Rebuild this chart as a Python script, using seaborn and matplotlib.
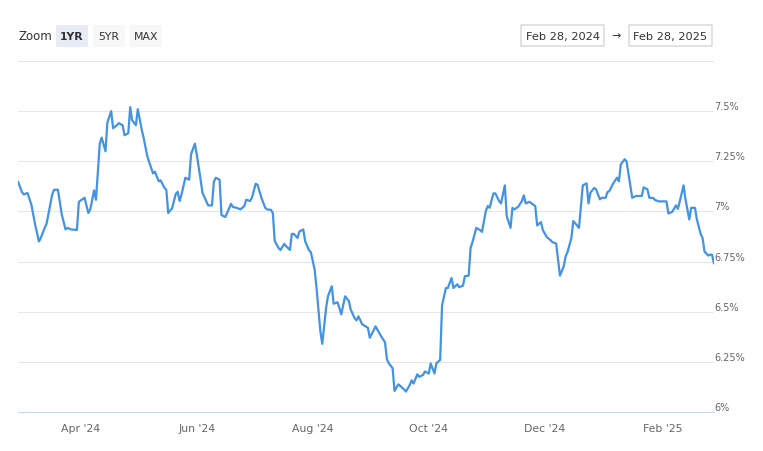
import matplotlib
matplotlib.use("Agg")
import matplotlib.pyplot as plt
import matplotlib.dates as mdates
from matplotlib.patches import FancyBboxPatch
from matplotlib.transforms import IdentityTransform, blended_transform_factory
import pandas as pd
import seaborn as sns

# Rate series (Feb 28, 2024 -> Feb 28, 2025)
dates = [
    "2024-02-28", "2024-03-01", "2024-03-02", "2024-03-04", "2024-03-06", "2024-03-08",
    "2024-03-10", "2024-03-11", "2024-03-13", "2024-03-14", "2024-03-17", "2024-03-18",
    "2024-03-20", "2024-03-22", "2024-03-24", "2024-03-25", "2024-03-27", "2024-03-30",
    "2024-03-31", "2024-04-03", "2024-04-05", "2024-04-06", "2024-04-08", "2024-04-09",
    "2024-04-11", "2024-04-12", "2024-04-14", "2024-04-15", "2024-04-17", "2024-04-18",
    "2024-04-20", "2024-04-21", "2024-04-23", "2024-04-24", "2024-04-26", "2024-04-27",
    "2024-04-28", "2024-04-30", "2024-05-01", "2024-05-03", "2024-05-04", "2024-05-06",
    "2024-05-07", "2024-05-09", "2024-05-10", "2024-05-12", "2024-05-13", "2024-05-15",
    "2024-05-16", "2024-05-17", "2024-05-19", "2024-05-21", "2024-05-22", "2024-05-23",
    "2024-05-24", "2024-05-26", "2024-05-28", "2024-05-29", "2024-05-31", "2024-06-01",
    "2024-06-03", "2024-06-04", "2024-06-07", "2024-06-09", "2024-06-10", "2024-06-11",
    "2024-06-13", "2024-06-14", "2024-06-16", "2024-06-17", "2024-06-19", "2024-06-20",
    "2024-06-22", "2024-06-24", "2024-06-26", "2024-06-27", "2024-06-29", "2024-06-30",
    "2024-07-02", "2024-07-03", "2024-07-05", "2024-07-07", "2024-07-08", "2024-07-10",
    "2024-07-11", "2024-07-12", "2024-07-14", "2024-07-15", "2024-07-17", "2024-07-18",
    "2024-07-20", "2024-07-21", "2024-07-22", "2024-07-24", "2024-07-25", "2024-07-27",
    "2024-07-28", "2024-07-30", "2024-07-31", "2024-08-02", "2024-08-03", "2024-08-05",
    "2024-08-06", "2024-08-08", "2024-08-09", "2024-08-11", "2024-08-12", "2024-08-14",
    "2024-08-15", "2024-08-16", "2024-08-18", "2024-08-20", "2024-08-21", "2024-08-23",
    "2024-08-24", "2024-08-25", "2024-08-27", "2024-08-30", "2024-08-31", "2024-09-02",
    "2024-09-03", "2024-09-05", "2024-09-06", "2024-09-08", "2024-09-09", "2024-09-10",
    "2024-09-12", "2024-09-13", "2024-09-15", "2024-09-16", "2024-09-18", "2024-09-19",
    "2024-09-21", "2024-09-22", "2024-09-23", "2024-09-25", "2024-09-26", "2024-09-28",
    "2024-09-29", "2024-10-01", "2024-10-02", "2024-10-04", "2024-10-05", "2024-10-07",
    "2024-10-08", "2024-10-10", "2024-10-11", "2024-10-13", "2024-10-14", "2024-10-16",
    "2024-10-17", "2024-10-19", "2024-10-20", "2024-10-22", "2024-10-23", "2024-10-24",
    "2024-10-26", "2024-10-28", "2024-10-29", "2024-10-31", "2024-11-01", "2024-11-02",
    "2024-11-04", "2024-11-05", "2024-11-07", "2024-11-08", "2024-11-10", "2024-11-11",
    "2024-11-13", "2024-11-14", "2024-11-15", "2024-11-17", "2024-11-19", "2024-11-20",
    "2024-11-21", "2024-11-23", "2024-11-24", "2024-11-26", "2024-11-27", "2024-11-29",
    "2024-11-30", "2024-12-02", "2024-12-04", "2024-12-05", "2024-12-07", "2024-12-09",
    "2024-12-11", "2024-12-12", "2024-12-13", "2024-12-15", "2024-12-16", "2024-12-18",
    "2024-12-19", "2024-12-21", "2024-12-23", "2024-12-24", "2024-12-25", "2024-12-27",
    "2024-12-28", "2024-12-30", "2024-12-31", "2025-01-02", "2025-01-03", "2025-01-04",
    "2025-01-06", "2025-01-08", "2025-01-09", "2025-01-10", "2025-01-12", "2025-01-13",
    "2025-01-15", "2025-01-16", "2025-01-18", "2025-01-21", "2025-01-22", "2025-01-24",
    "2025-01-25", "2025-01-27", "2025-01-28", "2025-01-30", "2025-02-01", "2025-02-03",
    "2025-02-04", "2025-02-06", "2025-02-08", "2025-02-09", "2025-02-10", "2025-02-12",
    "2025-02-13", "2025-02-15", "2025-02-16", "2025-02-18", "2025-02-19", "2025-02-21",
    "2025-02-22", "2025-02-23", "2025-02-25", "2025-02-26", "2025-02-27", "2025-02-28",
]
rates = [
    7.149, 7.098, 7.085, 7.092, 7.035, 6.935,
    6.850, 6.868, 6.918, 6.938, 7.085, 7.108,
    7.108, 6.985, 6.910, 6.918, 6.910, 6.908,
    7.048, 7.068, 6.992, 7.010, 7.105, 7.058,
    7.338, 7.368, 7.300, 7.443, 7.500, 7.415,
    7.430, 7.440, 7.430, 7.380, 7.390, 7.520,
    7.455, 7.430, 7.510, 7.410, 7.370, 7.275,
    7.245, 7.190, 7.198, 7.150, 7.155, 7.118,
    7.108, 6.992, 7.015, 7.088, 7.098, 7.052,
    7.085, 7.168, 7.158, 7.285, 7.338, 7.285,
    7.160, 7.093, 7.030, 7.030, 7.148, 7.168,
    7.158, 6.982, 6.972, 6.993, 7.038, 7.022,
    7.018, 7.010, 7.027, 7.058, 7.052, 7.068,
    7.138, 7.132, 7.068, 7.018, 7.010, 7.008,
    6.992, 6.852, 6.818, 6.808, 6.838, 6.827,
    6.808, 6.888, 6.888, 6.868, 6.900, 6.910,
    6.852, 6.807, 6.797, 6.710, 6.618, 6.402,
    6.340, 6.518, 6.577, 6.627, 6.540, 6.547,
    6.518, 6.487, 6.577, 6.553, 6.510, 6.468,
    6.457, 6.477, 6.437, 6.420, 6.370, 6.407,
    6.427, 6.393, 6.377, 6.347, 6.263, 6.243,
    6.218, 6.105, 6.138, 6.130, 6.113, 6.102,
    6.135, 6.158, 6.142, 6.188, 6.175, 6.185,
    6.202, 6.192, 6.242, 6.192, 6.243, 6.260,
    6.532, 6.618, 6.618, 6.668, 6.618, 6.637,
    6.622, 6.630, 6.677, 6.680, 6.818, 6.847,
    6.918, 6.907, 6.898, 7.002, 7.027, 7.018,
    7.090, 7.090, 7.052, 7.040, 7.130, 6.977,
    6.918, 7.018, 7.010, 7.023, 7.052, 7.080,
    7.040, 7.048, 7.040, 7.027, 6.930, 6.947,
    6.907, 6.873, 6.857, 6.847, 6.840, 6.680,
    6.727, 6.777, 6.798, 6.868, 6.952, 6.930,
    6.918, 7.130, 7.140, 7.040, 7.093, 7.117,
    7.110, 7.060, 7.068, 7.068, 7.097, 7.102,
    7.140, 7.168, 7.150, 7.235, 7.260, 7.250,
    7.127, 7.068, 7.077, 7.077, 7.120, 7.110,
    7.068, 7.067, 7.057, 7.050, 7.050, 7.050,
    6.990, 6.998, 7.030, 7.013, 7.050, 7.130,
    7.060, 6.960, 7.018, 7.018, 6.960, 6.887,
    6.867, 6.800, 6.780, 6.785, 6.783, 6.740,
]

grid_levels = [6.0, 6.25, 6.5, 6.75, 7.0, 7.25, 7.5, 7.75]
y_labels = ["6%", "6.25%", "6.5%", "6.75%", "7%", "7.25%", "7.5%"]
zoom_buttons = ["1YR", "5YR", "MAX"]
range_from = "Feb 28, 2024"
range_to = "Feb 28, 2025"

W, H = 763, 452
LINE = "#4393e4"
TEXT = "#333333"
LABEL = "#666666"
AXIS = "#ccd6eb"
GRID = "#e6e6e6"

sns.set_style("white")
plt.rcParams["font.family"] = ["DejaVu Sans"]

fig = plt.figure(figsize=(W / 100, H / 100), dpi=100)
ax = fig.add_axes([18 / W, 1 - 413 / H, 696 / W, 351 / H])

df = pd.DataFrame({"date": pd.to_datetime(dates), "rate": rates})
sns.lineplot(data=df, x="date", y="rate", ax=ax, color=LINE, linewidth=1.6)

ax.set_xlim(pd.Timestamp("2024-02-28"), pd.Timestamp("2025-02-28"))
ax.set_ylim(grid_levels[0], grid_levels[-1])
ax.set_xlabel("")
ax.set_ylabel("")

# horizontal grid, labels drawn by hand on the right
ax.set_yticks(grid_levels)
ax.yaxis.grid(True, color=GRID, linewidth=0.75)
ax.set_axisbelow(True)
ax.tick_params(axis="y", length=0, labelleft=False, labelright=False)
trans = blended_transform_factory(ax.transAxes, ax.transData)
for level, lab in zip(grid_levels, y_labels):
    ax.text(1.0, level, lab, transform=trans, ha="left", va="bottom",
            fontsize=7, color=LABEL)

for side in ["top", "left", "right"]:
    ax.spines[side].set_visible(False)
ax.spines["bottom"].set_color(AXIS)
ax.spines["bottom"].set_linewidth(0.75)

ax.xaxis.set_major_locator(mdates.MonthLocator(bymonth=(2, 4, 6, 8, 10, 12)))
ax.xaxis.set_major_formatter(mdates.DateFormatter("%b '%y"))
ax.tick_params(axis="x", direction="out", length=6, width=0.75, color=AXIS,
               labelsize=7.8, labelcolor=LABEL, pad=2)


def px_box(x0, y0, x1, y1, face, edge=None, rounding=2):
    box = FancyBboxPatch((x0, H - y1), x1 - x0, y1 - y0,
                         boxstyle=f"round,pad=0,rounding_size={rounding}",
                         transform=IdentityTransform(), facecolor=face,
                         edgecolor=edge if edge else "none", linewidth=0.8)
    fig.add_artist(box)


def px_text(x, y, s, **kw):
    fig.text(x / W, 1 - y / H, s, ha="center", va="center", color=TEXT, **kw)


# range selector
px_text(35, 37, "Zoom", fontsize=8.5)
btn_x = [(56, 88), (93, 125), (130, 162)]
for (x0, x1), lab in zip(btn_x, zoom_buttons):
    selected = lab == "1YR"
    px_box(x0, 26, x1, 48, "#e6ebf5" if selected else "#f7f7f7")
    px_text((x0 + x1) / 2, 37, lab, fontsize=7.8,
            fontweight="bold" if selected else "normal")

# date inputs
px_box(521, 26, 604, 47, "white", "#cccccc", rounding=0)
px_box(629, 26, 712, 47, "white", "#cccccc", rounding=0)
px_text(562.5, 37, range_from, fontsize=8.2)
px_text(670.5, 37, range_to, fontsize=8.2)
px_text(616, 36, "\u2192", fontsize=8)

fig.savefig("out.png", dpi=100, facecolor="white")
